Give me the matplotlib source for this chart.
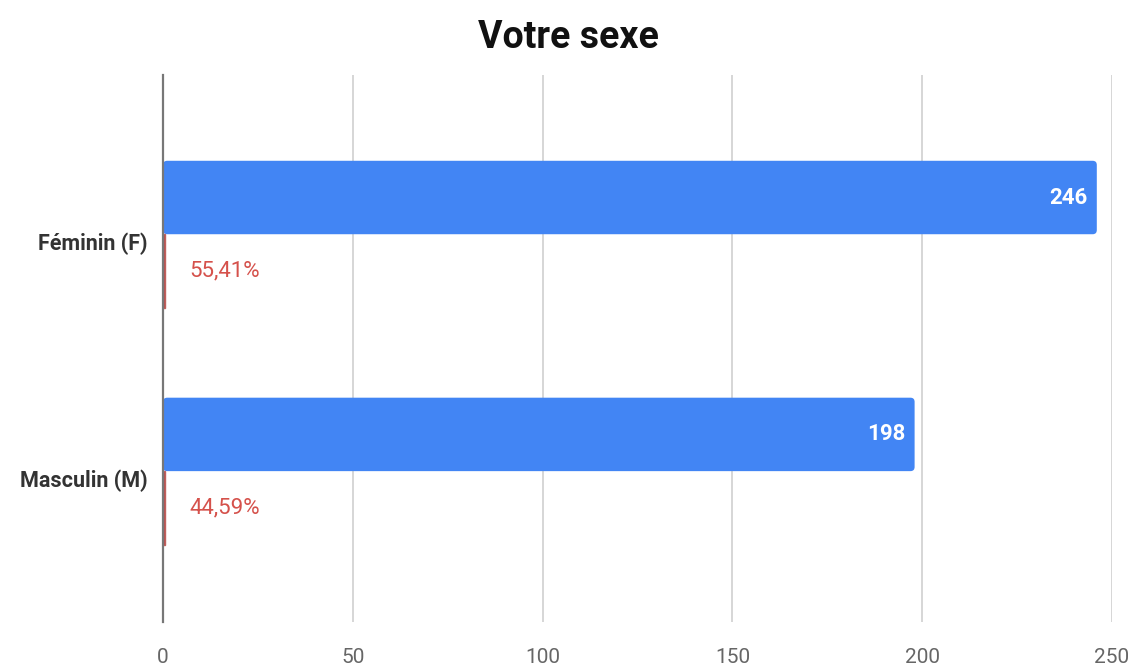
import matplotlib.pyplot as plt
from matplotlib.patches import FancyBboxPatch
import numpy as np

# donnees du graphique
categories = ['Féminin (F)', 'Masculin (M)']
effectifs = [246, 198]
pourcentages = [55.41, 44.59]
ticks_x = [0, 50, 100, 150, 200, 250]

plt.rcParams['font.family'] = ['Roboto', 'DejaVu Sans']

fig = plt.figure(figsize=(11.37, 6.66), dpi=100)
ax = fig.add_axes([0.1434, 0.066, 0.978 - 0.1434, 0.821])

y = np.arange(len(categories))
h = 0.31

# barre bleue = effectif (coins arrondis), barre rouge = pourcentage (meme echelle -> minuscule)
barres = ax.barh(y - h / 2, effectifs, height=h, color='#4285F4', zorder=3)
for b in barres:
    b.set_visible(False)
    arrondi = FancyBboxPatch((b.get_x(), b.get_y()), b.get_width(), b.get_height(),
                             boxstyle='round,pad=0,rounding_size=1.1',
                             mutation_aspect=0.016, facecolor='#4285F4',
                             edgecolor='none', zorder=3)
    ax.add_patch(arrondi)
ax.barh(y + h / 2, [p / 100 for p in pourcentages], height=h, color='#b04a4a',
        edgecolor='#c0605c', linewidth=1, zorder=3)

for yi, v in zip(y, effectifs):
    ax.text(v - 2.5, yi - h / 2, str(v), color='white', fontsize=16, fontweight='bold',
            ha='right', va='center', zorder=4)
for yi, p in zip(y, pourcentages):
    ax.text(7, yi + h / 2, f'{p:.2f}%'.replace('.', ','), color='#d5514b', fontsize=16,
            ha='left', va='center', zorder=4)

ax.set_xlim(0, 250)
ax.set_ylim(1.637, -0.671)
ax.set_xticks(ticks_x)
ax.set_yticks(y + 0.03)
ax.set_yticklabels(categories, fontsize=15.5, fontweight='bold', color='#333333')
ax.tick_params(axis='x', labelsize=15, labelcolor='#666666', length=0, pad=19)
ax.tick_params(axis='y', length=0, pad=11)
ax.grid(axis='x', color='#d0d0d0', linewidth=1.2, zorder=0)
for s in ['top', 'right', 'bottom']:
    ax.spines[s].set_visible(False)
ax.spines['left'].set_color('#777777')
ax.spines['left'].set_linewidth(1.6)
ax.spines['left'].set_zorder(5)

fig.suptitle('Votre sexe', fontsize=27, fontweight='bold', color='#111111', y=0.972)

fig.savefig('out.png', dpi=100)
